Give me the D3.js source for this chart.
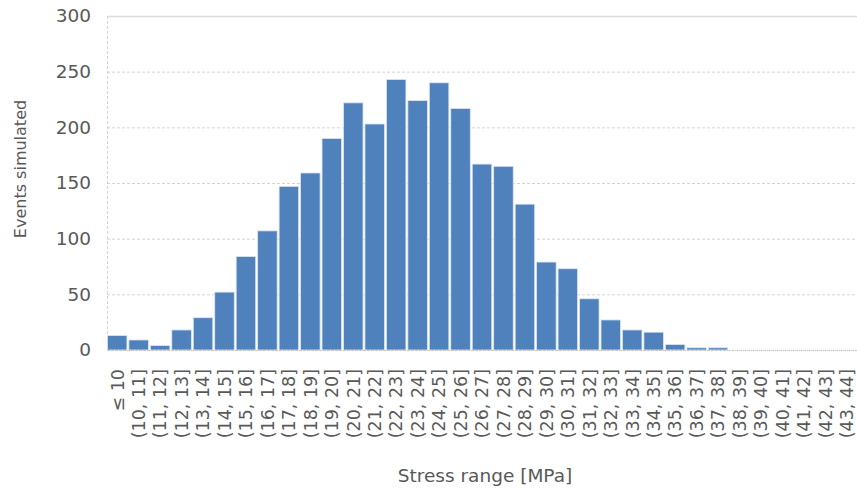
<!DOCTYPE html>
<html>
<head>
<meta charset="utf-8">
<script src="https://cdn.jsdelivr.net/npm/d3@7"></script>
<style>
  html, body { margin: 0; padding: 0; background: #fff; }
  svg { display: block; }
</style>
</head>
<body>
<svg id="chart" width="857" height="491"></svg>
<script>
// Histogram bins of simulated stress ranges
const categories = ["≤ 10", "(10, 11]", "(11, 12]", "(12, 13]", "(13, 14]", "(14, 15]", "(15, 16]",
  "(16, 17]", "(17, 18]", "(18, 19]", "(19, 20]", "(20, 21]", "(21, 22]", "(22, 23]", "(23, 24]",
  "(24, 25]", "(25, 26]", "(26, 27]", "(27, 28]", "(28, 29]", "(29, 30]", "(30, 31]", "(31, 32]",
  "(32, 33]", "(33, 34]", "(34, 35]", "(35, 36]", "(36, 37]", "(37, 38]", "(38, 39]", "(39, 40]",
  "(40, 41]", "(41, 42]", "(42, 43]", "(43, 44]"];
const counts = [13, 9, 4, 18, 29, 52, 84, 107, 147, 159, 190, 222, 203, 243, 224, 240, 217, 167,
  165, 131, 79, 73, 46, 27, 18, 16, 5, 2, 2, 0, 0, 0, 0, 0, 0];
const yTicks = [0, 50, 100, 150, 200, 250, 300];
const xTitle = "Stress range [MPa]";
const yTitle = "Events simulated";

const svg = d3.select("#chart");
const plotLeft = 107, plotRight = 857, plotTop = 16, plotBottom = 350;
const textColor = "#595959";
const font = "DejaVu Sans, sans-serif";

const x = d3.scaleBand().domain(categories).range([plotLeft, plotRight]).paddingInner(0.09).paddingOuter(0.02);
const y = d3.scaleLinear().domain([0, 300]).range([plotBottom, plotTop]);

// Horizontal gridlines
svg.append("g").selectAll("line").data(yTicks.filter(t => t > 0 && t < 300)).join("line")
  .attr("x1", plotLeft).attr("x2", plotRight)
  .attr("y1", d => y(d) + 0.5).attr("y2", d => y(d) + 0.5)
  .attr("stroke", "#d4d4d4").attr("stroke-width", 1).attr("stroke-dasharray", "3,2");

// Top border of the plot area
svg.append("line").attr("x1", plotLeft).attr("x2", plotRight)
  .attr("y1", y(300) + 0.5).attr("y2", y(300) + 0.5)
  .attr("stroke", "#dcdcdc").attr("stroke-width", 1.5);

// Left edge of the plot area
svg.append("line").attr("x1", plotLeft + 0.5).attr("x2", plotLeft + 0.5)
  .attr("y1", y(300)).attr("y2", y(0))
  .attr("stroke", "#d4d4d4").attr("stroke-width", 1).attr("stroke-dasharray", "3,2");

// Bars
svg.append("g").selectAll("rect").data(counts).join("rect")
  .attr("x", (d, i) => x(categories[i]))
  .attr("y", d => y(d))
  .attr("width", x.bandwidth())
  .attr("height", d => y(0) - y(d))
  .attr("fill", "#4f81bd")
  .attr("stroke", "#dce6f2")
  .attr("stroke-width", 0.8);

// Baseline
svg.append("line").attr("x1", plotLeft).attr("x2", plotRight)
  .attr("y1", y(0) + 0.5).attr("y2", y(0) + 0.5)
  .attr("stroke", "#c8c8c8").attr("stroke-width", 1).attr("stroke-dasharray", "3,1");

// Y axis
const yAxis = svg.append("g").attr("transform", `translate(${plotLeft - 16},0)`)
  .call(d3.axisLeft(y).tickValues(yTicks).tickSize(0).tickPadding(0));
yAxis.select(".domain").remove();
yAxis.selectAll("text").attr("fill", textColor).attr("font-family", font).attr("font-size", 18.5);

// X axis with rotated bin labels
const xAxis = svg.append("g").attr("transform", `translate(0,${plotBottom + 19})`)
  .call(d3.axisBottom(x).tickSize(0).tickPadding(0));
xAxis.select(".domain").remove();
xAxis.selectAll("text")
  .attr("fill", textColor).attr("font-family", font).attr("font-size", 17.5)
  .attr("transform", "rotate(-90)")
  .attr("text-anchor", "end")
  .attr("x", 0).attr("y", 0).attr("dy", "0.36em");

// Axis titles
svg.append("text").attr("x", 485).attr("y", 482)
  .attr("text-anchor", "middle").attr("fill", textColor)
  .attr("font-family", font).attr("font-size", 18.5).text(xTitle);

svg.append("text").attr("transform", "translate(26,169) rotate(-90)")
  .attr("text-anchor", "middle").attr("fill", textColor)
  .attr("font-family", font).attr("font-size", 16).text(yTitle);
</script>
</body>
</html>
